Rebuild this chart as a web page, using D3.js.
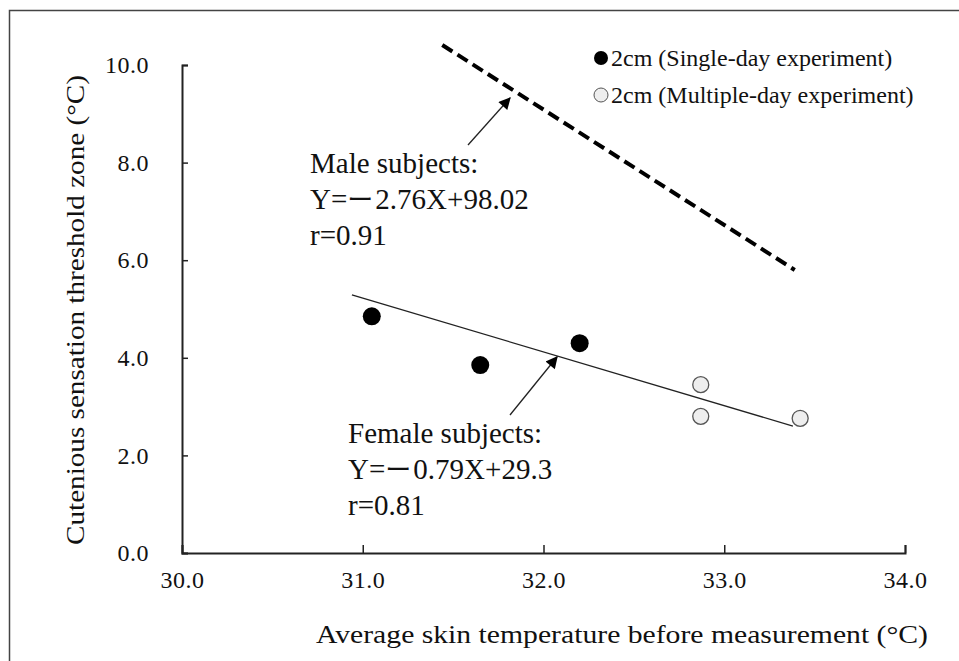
<!DOCTYPE html>
<html>
<head>
<meta charset="utf-8">
<script src="https://cdn.jsdelivr.net/npm/d3@7"></script>
<style>
  body { margin: 0; background: #fff; }
  svg text { font-family: "Liberation Serif", "Times New Roman", serif; fill: #111; }
</style>
</head>
<body>
<svg width="959" height="661"></svg>
<script>
//data
const xTicks = [30, 31, 32, 33, 34];
const yTicks = [0, 2, 4, 6, 8, 10];
const singleDay = [[31.05, 4.85], [31.65, 3.85], [32.2, 4.3]];
const multiDay = [[32.87, 3.45], [32.87, 2.8], [33.42, 2.76]];
const femaleLine = [[30.94, 5.29], [33.38, 2.6]];
const maleLine = [[31.44, 10.41], [33.39, 5.8]];
const legendItems = ['2cm (Single-day experiment)', '2cm (Multiple-day experiment)'];

//set up
const svg = d3.select('svg');
const x = d3.scaleLinear().domain([30, 34]).range([182, 905]);
const y = d3.scaleLinear().domain([0, 10]).range([553, 65]);

// outer frame (top and left only visible)
svg.append('path')
  .attr('d', 'M9.5,661 L9.5,10.5 L959,10.5')
  .attr('fill', 'none')
  .attr('stroke', '#444')
  .attr('stroke-width', 1.5);

//axes
const xAxis = svg.append('g')
  .attr('transform', `translate(0,${y(0)})`)
  .call(d3.axisBottom(x).tickValues(xTicks).tickSize(-8).tickPadding(18).tickFormat(d3.format('.1f')));
const yAxis = svg.append('g')
  .attr('transform', `translate(${x(30)},0)`)
  .call(d3.axisLeft(y).tickValues(yTicks).tickSize(-6).tickPadding(33).tickFormat(d3.format('.1f')));

[xAxis, yAxis].forEach(g => {
  g.select('.domain').attr('stroke', '#222').attr('stroke-width', 2);
  g.selectAll('.tick line').attr('stroke', '#222').attr('stroke-width', 1.5);
  g.selectAll('.tick text')
    .style('font-size', '24px')
    .style('letter-spacing', '0.5px')
    .attr('fill', '#111');
});
xAxis.selectAll('.tick text').attr('dy', '0.71em');

//axis titles
svg.append('text')
  .attr('x', 316).attr('y', 643)
  .attr('textLength', 612)
  .attr('lengthAdjust', 'spacingAndGlyphs')
  .style('font-size', '26px')
  .text('Average skin temperature before measurement (\u00b0C)');

svg.append('text')
  .attr('transform', `translate(84,545) rotate(-90)`)
  .attr('textLength', 470)
  .attr('lengthAdjust', 'spacingAndGlyphs')
  .style('font-size', '26px')
  .text('Cutenious sensation threshold zone (\u00b0C)');

//regression lines
const line = d3.line().x(d => x(d[0])).y(d => y(d[1]));
svg.append('path')
  .datum(femaleLine)
  .attr('d', line)
  .attr('stroke', '#222')
  .attr('stroke-width', 1.3)
  .attr('fill', 'none');
svg.append('path')
  .datum(maleLine)
  .attr('d', line)
  .attr('stroke', '#000')
  .attr('stroke-width', 4)
  .attr('stroke-dasharray', '12,6')
  .attr('fill', 'none');

//points
svg.selectAll('circle.single')
  .data(singleDay)
  .join('circle')
  .attr('class', 'single')
  .attr('cx', d => x(d[0]))
  .attr('cy', d => y(d[1]))
  .attr('r', 9)
  .attr('fill', '#000');
svg.selectAll('circle.multi')
  .data(multiDay)
  .join('circle')
  .attr('class', 'multi')
  .attr('cx', d => x(d[0]))
  .attr('cy', d => y(d[1]))
  .attr('r', 8)
  .attr('fill', '#eee')
  .attr('stroke', '#555')
  .attr('stroke-width', 1.3);

//arrows
svg.append('defs').append('marker')
  .attr('id', 'head')
  .attr('viewBox', '0 0 10 10')
  .attr('refX', 9).attr('refY', 5)
  .attr('markerWidth', 16).attr('markerHeight', 12)
  .attr('markerUnits', 'userSpaceOnUse')
  .attr('orient', 'auto')
  .append('path')
  .attr('d', 'M0,0 L10,5 L0,10 Z')
  .attr('fill', '#000');

const arrows = [[468, 145, 510, 98], [510, 415, 557, 357]];
svg.selectAll('line.arrow')
  .data(arrows)
  .join('line')
  .attr('class', 'arrow')
  .attr('x1', d => d[0]).attr('y1', d => d[1])
  .attr('x2', d => d[2]).attr('y2', d => d[3])
  .attr('stroke', '#222')
  .attr('stroke-width', 1.3)
  .attr('marker-end', 'url(#head)');

//annotations
const notes = [
  { x: 310, y: 173, lines: [['Male subjects:'], ['Y=', '2.76X+98.02'], ['r=0.91']] },
  { x: 348, y: 443, lines: [['Female subjects:'], ['Y=', '0.79X+29.3'], ['r=0.81']] }
];
notes.forEach(n => {
  const t = svg.append('text')
    .attr('x', n.x).attr('y', n.y)
    .style('font-size', '29px');
  n.lines.forEach((parts, i) => {
    const first = t.append('tspan').attr('x', n.x).attr('dy', i ? 36 : 0).text(parts[0]);
    if (parts.length > 1) {
      // heavy minus like the original
      t.append('tspan')
        .style('font-family', '"Noto Sans CJK JP"')
        .style('font-size', '26px')
        .text('\u30fc');
      t.append('tspan').attr('dx', 2).text(parts[1]);
    }
  });
});

//legend
const legend = svg.append('g').attr('transform', 'translate(601,58)');
legend.selectAll('circle')
  .data(legendItems)
  .join('circle')
  .attr('cx', 0)
  .attr('cy', (d, i) => i * 37)
  .attr('r', 7)
  .attr('fill', (d, i) => i ? '#eee' : '#000')
  .attr('stroke', (d, i) => i ? '#555' : 'none');
legend.selectAll('text')
  .data(legendItems)
  .join('text')
  .attr('x', 10)
  .attr('y', (d, i) => i * 37 + 8)
  .style('font-size', '24px')
  .text(d => d);
</script>
</body>
</html>
